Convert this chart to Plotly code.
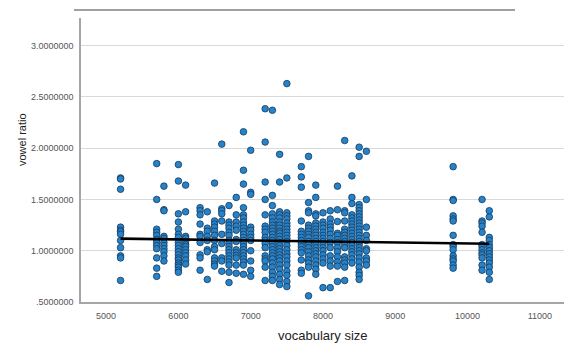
import plotly.graph_objects as go

# ---- data: vowel ratio values read per vocabulary-size column ----
v5200 = [1.71, 1.70, 1.60, 1.23, 1.20, 1.185, 1.16, 1.10, 1.03, 0.95, 0.93, 0.71]
v5700 = [1.85, 1.50, 1.21, 1.18, 1.15, 1.11, 1.08, 1.05, 1.02, 0.93, 0.83, 0.75]
v5800 = [1.63, 1.40, 1.39, 1.14, 1.12, 1.08, 1.05, 1.02, 0.99, 0.95, 0.90]
v6000 = [1.84, 1.68, 1.36, 1.28, 1.21, 1.16, 1.13, 1.08, 1.05, 1.02, 0.99, 0.96, 0.93,
         0.91, 0.88, 0.86, 0.84, 0.81, 0.79]
v6100 = [1.64, 1.38, 1.14, 1.12, 1.09, 1.06, 1.04, 1.01, 0.98, 0.95, 0.91, 0.87]
v6300 = [1.42, 1.39, 1.35, 1.26, 1.16, 1.14, 1.08, 0.96, 0.93, 0.81]
v6400 = [1.38, 1.22, 1.19, 1.14, 1.10, 1.01, 0.99, 0.72]
v6500 = [1.66, 1.29, 1.26, 1.23, 1.19, 1.15, 1.10, 1.04, 1.01, 0.93, 0.90, 0.87, 0.85]
v6600 = [2.04, 1.41, 1.39, 1.36, 1.29, 1.16, 1.07, 0.93, 0.90, 0.80]
v6700 = [1.44, 1.28, 1.25, 1.22, 1.18, 1.15, 1.10, 1.07, 1.04, 1.01, 0.98, 0.95, 0.92,
         0.89, 0.86, 0.79, 0.69]
v6800 = [1.52, 1.35, 1.28, 1.24, 1.20, 1.11, 1.09, 1.01, 0.98, 0.955, 0.93, 0.86, 0.78]
v6900 = [2.16, 1.785, 1.65, 1.42, 1.35, 1.32, 1.28, 1.25, 1.22, 1.19, 1.16, 1.13, 1.10,
         1.07, 1.04, 1.01, 0.98, 0.95, 0.92, 0.89, 0.86, 0.77]
v7000 = [1.98, 1.57, 1.55, 1.23, 1.20, 1.16, 1.13, 1.10, 1.00, 0.90, 0.81, 0.75]
v7200 = [2.385, 2.06, 1.67, 1.50, 1.35, 1.24, 1.21, 1.18, 1.13, 1.10, 1.07, 1.03, 0.95,
         0.92, 0.90, 0.84, 0.71]
v7300 = [2.37, 1.54, 1.44, 1.36, 1.32, 1.28, 1.25, 1.22, 1.19, 1.16, 1.13, 1.10, 1.07,
         1.04, 1.01, 0.98, 0.95, 0.92, 0.88, 0.84, 0.79, 0.75, 0.71]
v7400 = [1.94, 1.67, 1.38, 1.35, 1.32, 1.28, 1.25, 1.22, 1.19, 1.17, 1.14, 1.11, 1.08,
         1.05, 1.02, 0.99, 0.96, 0.93, 0.90, 0.86, 0.82, 0.77, 0.72, 0.67]
v7500 = [2.63, 1.71, 1.37, 1.34, 1.31, 1.27, 1.24, 1.21, 1.18, 1.15, 1.12, 1.09, 1.05,
         1.01, 0.97, 0.94, 0.90, 0.86, 0.80, 0.76, 0.70, 0.65]
v7700 = [1.82, 1.72, 1.62, 1.29, 1.19, 1.16, 1.13, 1.10, 1.07, 1.04, 1.01, 0.98, 0.91,
         0.81, 0.78]
v7800 = [1.92, 1.47, 1.39, 1.37, 1.25, 1.22, 1.19, 1.16, 1.13, 1.09, 1.06, 1.03, 0.99,
         0.95, 0.91, 0.88, 0.84, 0.56]
v7900 = [1.64, 1.52, 1.36, 1.34, 1.27, 1.24, 1.21, 1.18, 1.15, 1.12, 1.09, 1.06, 1.03,
         1.00, 0.97, 0.94, 0.90, 0.86, 0.82, 0.77]
v8000 = [1.37, 1.28, 1.25, 1.22, 1.18, 1.15, 1.12, 1.09, 1.06, 1.03, 1.00, 0.96, 0.92,
         0.88, 0.64]
v8100 = [1.39, 1.31, 1.26, 1.23, 1.20, 1.16, 1.12, 1.08, 1.03, 0.95, 0.90, 0.85, 0.64]
v8200 = [1.63, 1.40, 1.285, 1.17, 1.15, 1.11, 1.08, 1.03, 0.99, 0.94, 0.89, 0.85, 0.70]
v8300 = [2.075, 1.39, 1.37, 1.29, 1.21, 1.18, 1.15, 1.12, 1.09, 1.06, 1.03, 0.94, 0.91,
         0.88, 0.84, 0.71]
v8400 = [1.73, 1.52, 1.46, 1.35, 1.32, 1.29, 1.26, 1.23, 1.20, 1.17, 1.14, 1.11, 1.08,
         1.05, 1.02, 0.99, 0.96, 0.92, 0.88]
v8500 = [2.01, 1.92, 1.45, 1.42, 1.39, 1.36, 1.33, 1.30, 1.27, 1.24, 1.21, 1.18, 1.15,
         1.12, 1.09, 1.06, 1.03, 1.00, 0.97, 0.93, 0.89, 0.84, 0.79, 0.76, 0.72]
v8600 = [1.97, 1.50, 1.23, 1.15, 1.10, 1.02, 1.00, 0.93, 0.90, 0.86]
v9800 = [1.82, 1.50, 1.49, 1.34, 1.31, 1.29, 1.15, 1.06, 1.04, 1.01, 0.95, 0.92, 0.90,
         0.86, 0.83]
v10200 = [1.50, 1.29, 1.27, 1.24, 1.18, 1.06, 1.04, 1.01, 0.98, 0.96, 0.93, 0.86, 0.81]
v10300 = [1.39, 1.33, 1.13, 1.10, 1.06, 1.03, 1.00, 0.97, 0.94, 0.91, 0.88, 0.84, 0.79,
          0.72]

vocab_sizes = [5200, 5700, 5800, 6000, 6100, 6300, 6400, 6500, 6600, 6700, 6800, 6900,
               7000, 7200, 7300, 7400, 7500, 7700, 7800, 7900, 8000, 8100, 8200, 8300,
               8400, 8500, 8600, 9800, 10200, 10300]
ratio_columns = [v5200, v5700, v5800, v6000, v6100, v6300, v6400, v6500, v6600, v6700,
                 v6800, v6900, v7000, v7200, v7300, v7400, v7500, v7700, v7800, v7900,
                 v8000, v8100, v8200, v8300, v8400, v8500, v8600, v9800, v10200, v10300]

# fitted line
fit_x = [5200, 10300]
fit_y = [1.118, 1.068]

x_tick_vals = [5000, 6000, 7000, 8000, 9000, 10000, 11000]
x_tick_text = ["5000", "6000", "7000", "8000", "9000", "10000", "11000"]
y_tick_vals = [0.5, 1.0, 1.5, 2.0, 2.5, 3.0]
y_tick_text = [".5000000", "1.0000000", "1.5000000", "2.0000000", "2.5000000", "3.0000000"]

xs, ys = [], []
for size, col in zip(vocab_sizes, ratio_columns):
    for v in col:
        xs.append(size)
        ys.append(v)

fig = go.Figure()
fig.add_trace(go.Scatter(
    x=xs, y=ys, mode="markers",
    marker=dict(size=6.6, color="#2683c9", line=dict(color="#163a5c", width=0.8)),
    showlegend=False, hoverinfo="x+y",
))
fig.add_trace(go.Scatter(
    x=fit_x, y=fit_y, mode="lines",
    line=dict(color="#000000", width=2.6), showlegend=False,
))

tick_font = dict(family="Liberation Sans, Arial, sans-serif", size=9, color="#555555")

# the page body adds an 8px offset; plot area lands at x 81..565, y 18..302
fig.update_layout(
    width=564, height=337,
    margin=dict(l=73, r=7, t=10, b=43),
    paper_bgcolor="white", plot_bgcolor="white",
    font=dict(family="Liberation Sans, Arial, sans-serif"),
    xaxis=dict(
        range=[4653, 11347], tickmode="array", tickvals=x_tick_vals, ticktext=x_tick_text,
        showgrid=False, zeroline=False, showline=True, linecolor="#a6a6a6", linewidth=1.5,
        ticks="", tickfont=tick_font, ticklabelstandoff=4,
    ),
    yaxis=dict(
        range=[0.5, 3.27], tickmode="array", tickvals=y_tick_vals, ticktext=y_tick_text,
        showgrid=True, gridcolor="#d9d9d9", gridwidth=1, zeroline=False,
        showline=True, linecolor="#a6a6a6", linewidth=1.5,
        ticks="", tickfont=tick_font, ticklabelstandoff=4,
    ),
    annotations=[
        dict(text="vocabulary size", xref="paper", yref="paper",
             x=0.5, y=-33 / 284, xanchor="center", yanchor="middle", showarrow=False,
             font=dict(size=13, color="#222222")),
        dict(text="vowel ratio", xref="paper", yref="paper", textangle=-90,
             x=(22 - 81) / 484, y=(302 - 140) / 284, xanchor="center", yanchor="middle",
             showarrow=False, font=dict(size=11, color="#222222")),
    ],
    shapes=[
        dict(type="line", xref="paper", yref="paper",
             x0=(74 - 81) / 484, x1=(515 - 81) / 484,
             y0=(302 - 10) / 284, y1=(302 - 10) / 284,
             line=dict(color="#a0a0a0", width=2)),
    ],
)

fig.write_html("out.html")
